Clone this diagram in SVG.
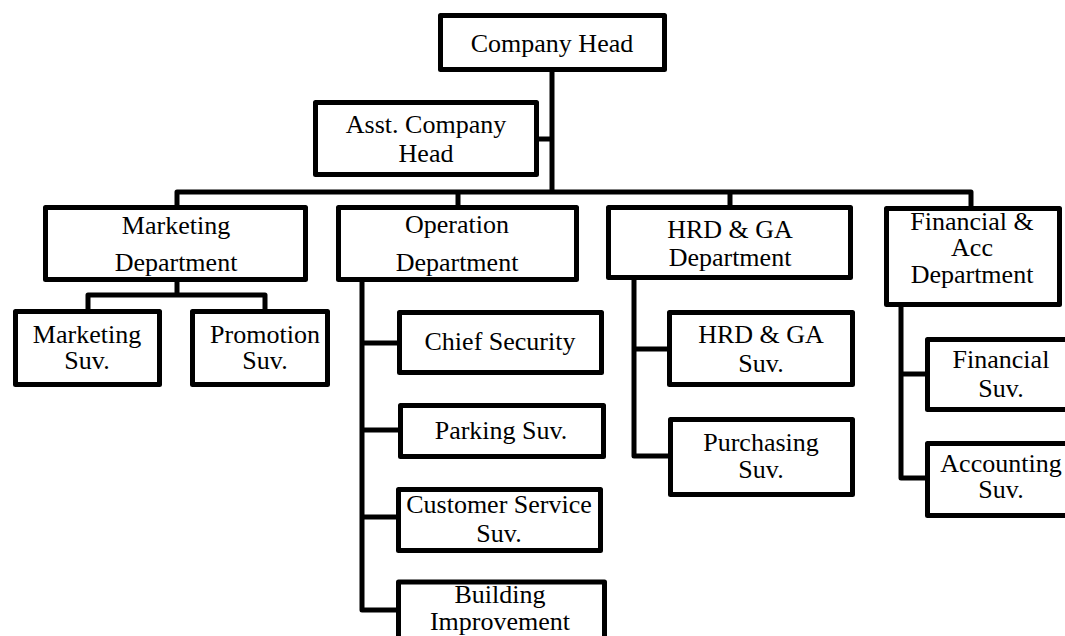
<svg xmlns="http://www.w3.org/2000/svg" width="1065" height="636" viewBox="0 0 1065 636">
  <style>
    .box { fill: #ffffff; stroke: #000000; stroke-width: 5; stroke-linejoin: round; }
    .wire { fill: none; stroke: #000000; stroke-width: 5; stroke-linejoin: round; stroke-linecap: butt; }
    text { font-family: "Liberation Serif", "Times New Roman", serif; font-size: 26px; fill: #000000; text-anchor: middle; }
  </style>
  <rect x="0" y="0" width="1065" height="636" fill="#ffffff"/>

  <!-- connectors -->
  <g id="connectors">
    <path class="wire" d="M552 70 V192"/>
    <path class="wire" d="M537 139 H552"/>
    <path class="wire" d="M177 207 V192 H971 V208"/>
    <path class="wire" d="M458 192 V207"/>
    <path class="wire" d="M730 192 V207"/>
    <path class="wire" d="M177 280 V295"/>
    <path class="wire" d="M88 311 V295 H265 V311"/>
    <path class="wire" d="M362 280 V610 H398"/>
    <path class="wire" d="M362 343 H399"/>
    <path class="wire" d="M362 430 H400"/>
    <path class="wire" d="M362 517 H398"/>
    <path class="wire" d="M634 278 V456 H670"/>
    <path class="wire" d="M634 349 H669"/>
    <path class="wire" d="M901 305 V478 H927"/>
    <path class="wire" d="M901 374 H927"/>
  </g>

  <g id="company-head">
    <rect class="box" x="440.5" y="15.5" width="224" height="54"/>
    <text x="552" y="52">Company Head</text>
  </g>
  <g id="asst-company-head">
    <rect class="box" x="315.5" y="102.5" width="221" height="72"/>
    <text x="426" y="133">Asst. Company</text>
    <text x="426" y="162">Head</text>
  </g>

  <g id="marketing-department">
    <rect class="box" x="45.5" y="207.5" width="260" height="72"/>
    <text x="176" y="234">Marketing</text>
    <text x="176" y="271">Department</text>
  </g>
  <g id="operation-department">
    <rect class="box" x="338.5" y="207.5" width="238" height="72"/>
    <text x="457" y="233">Operation</text>
    <text x="457" y="271">Department</text>
  </g>
  <g id="hrd-ga-department">
    <rect class="box" x="608.5" y="207.5" width="242" height="70"/>
    <text x="730" y="238">HRD &amp; GA</text>
    <text x="730" y="266">Department</text>
  </g>
  <g id="financial-acc-department">
    <rect class="box" x="886.5" y="208.5" width="173" height="96"/>
    <text x="972" y="230">Financial &amp;</text>
    <text x="972" y="256">Acc</text>
    <text x="972" y="283">Department</text>
  </g>

  <g id="marketing-suv">
    <rect class="box" x="15.5" y="311.5" width="144" height="73"/>
    <text x="87" y="343">Marketing</text>
    <text x="87" y="369">Suv.</text>
  </g>
  <g id="promotion-suv">
    <rect class="box" x="192.5" y="311.5" width="135" height="73"/>
    <text x="265" y="343">Promotion</text>
    <text x="265" y="369">Suv.</text>
  </g>

  <g id="chief-security">
    <rect class="box" x="399.5" y="312.5" width="202" height="60"/>
    <text x="500" y="350">Chief Security</text>
  </g>
  <g id="parking-suv">
    <rect class="box" x="400.5" y="405.5" width="203" height="51"/>
    <text x="501" y="439">Parking Suv.</text>
  </g>
  <g id="customer-service-suv">
    <rect class="box" x="398.5" y="489.5" width="202" height="61"/>
    <text x="499" y="513">Customer Service</text>
    <text x="499" y="542">Suv.</text>
  </g>
  <g id="building-improvement">
    <rect class="box" x="398.5" y="582" width="206" height="80"/>
    <text x="500" y="603">Building</text>
    <text x="500" y="630">Improvement</text>
  </g>

  <g id="hrd-ga-suv">
    <rect class="box" x="669.5" y="312.5" width="183" height="72"/>
    <text x="761" y="343">HRD &amp; GA</text>
    <text x="761" y="372">Suv.</text>
  </g>
  <g id="purchasing-suv">
    <rect class="box" x="670.5" y="419.5" width="182" height="75"/>
    <text x="761" y="451">Purchasing</text>
    <text x="761" y="478">Suv.</text>
  </g>

  <g id="financial-suv">
    <rect class="box" x="927.5" y="339.5" width="150" height="70"/>
    <text x="1001" y="368">Financial</text>
    <text x="1001" y="397">Suv.</text>
  </g>
  <g id="accounting-suv">
    <rect class="box" x="927.5" y="443.5" width="150" height="72"/>
    <text x="1001" y="472">Accounting</text>
    <text x="1001" y="498">Suv.</text>
  </g>
</svg>
